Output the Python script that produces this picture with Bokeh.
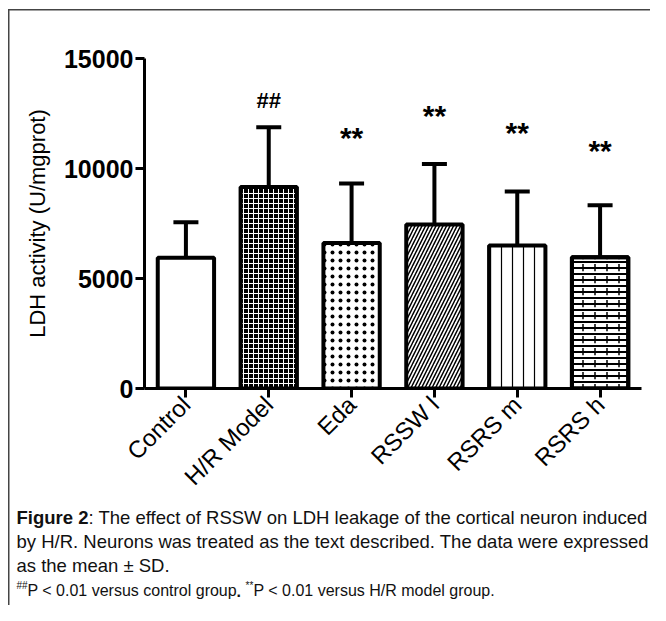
import math
from bokeh.plotting import figure
from bokeh.layouts import column
from bokeh.models import (Range1d, FactorRange, Whisker, TeeHead, ColumnDataSource, FixedTicker)
from bokeh.core.properties import value
from bokeh.embed import file_html
from bokeh.resources import INLINE

# ---- data ----
groups = ["Control", "H/R Model", "Eda", "RSSW l", "RSRS m", "RSRS h"]
means = [5940, 9160, 6610, 7460, 6500, 5970]
sds = [1620, 2720, 2710, 2740, 2460, 2360]
hash_groups = ["H/R Model"]
hash_y = [13100]
star_groups = ["Eda", "RSSW l", "RSRS m", "RSRS h"]
star_y = [11500, 12500, 11750, 10900]
y_ticks = [0, 5000, 10000, 15000]

FONT = "Liberation Sans"
W = 650
H1 = 505
H2 = 100

frame_bg = ("linear-gradient(#444,#444) no-repeat 8px 9px / 1.5px 100%, "
            "linear-gradient(#444,#444) no-repeat 8px 9px / 100% 1.5px, white")

p = figure(width=W, height=H1,
           x_range=FactorRange(*groups, range_padding=0),
           y_range=Range1d(0, 15000),
           output_backend="svg", toolbar_location=None,
           min_border_left=144, min_border_right=9,
           min_border_top=58, min_border_bottom=H1 - 388)
p.frame_align = False
p.outline_line_color = None
p.border_fill_color = None
p.background_fill_color = None
p.xgrid.visible = False
p.ygrid.visible = False
p.styles = {"background": frame_bg}

# axes
p.yaxis.ticker = FixedTicker(ticks=y_ticks)
p.yaxis.minor_tick_line_color = None
p.yaxis.major_tick_in = 0
p.yaxis.major_tick_out = 9
p.yaxis.major_tick_line_width = 3
p.yaxis.axis_line_width = 3
p.yaxis.major_label_text_font = FONT
p.yaxis.major_label_text_font_style = "bold"
p.yaxis.major_label_text_font_size = "25px"
p.yaxis.major_label_text_color = "black"
p.yaxis.major_label_standoff = 2
p.yaxis.axis_label = "LDH activity (U/mgprot)"
p.yaxis.axis_label_text_font = FONT
p.yaxis.axis_label_text_font_style = "normal"
p.yaxis.axis_label_text_font_size = "22px"
p.yaxis.axis_label_text_color = "black"
p.yaxis.axis_label_standoff = 11

p.xaxis.major_tick_in = 0
p.xaxis.major_tick_out = 9
p.xaxis.major_tick_line_width = 3
p.xaxis.axis_line_width = 3
p.xaxis.major_label_orientation = math.pi / 4
p.xaxis.major_label_text_font = FONT
p.xaxis.major_label_text_font_size = "24px"
p.xaxis.major_label_text_color = "black"
p.xaxis.major_label_standoff = 3

# error bars (upper only)
upper = [m + s for m, s in zip(means, sds)]
src = ColumnDataSource(dict(x=groups, m=means, up=upper))
w = Whisker(base="x", lower="m", upper="up", source=src, line_width=4, line_color="black",
            upper_head=TeeHead(size=25, line_width=4, line_color="black"), lower_head=None,
            level="underlay")
p.add_layout(w)

# bars with patterns
styles = [
    dict(fill_color="white"),
    dict(fill_color="black", hatch_pattern="cross", hatch_color="white", hatch_scale=5, hatch_weight=1),
    dict(fill_color="white", hatch_pattern="dot", hatch_color="black", hatch_scale=8, hatch_weight=1.5),
    dict(fill_color="white", hatch_pattern="right_diagonal_line", hatch_color="black", hatch_scale=7, hatch_weight=1.5),
    dict(fill_color="white", hatch_pattern="vertical_line", hatch_color="black", hatch_scale=11, hatch_weight=1.2),
    dict(fill_color="white", hatch_pattern="horizontal_line", hatch_color="black", hatch_scale=6, hatch_weight=2),
]
for g, m, st in zip(groups, means, styles):
    p.vbar(x=[g], top=[m], bottom=0, width=0.68, line_color="black", line_width=4, **st)
# brick joints for the last bar
p.vbar(x=[groups[5]], top=[means[5]], bottom=0, width=0.68, fill_color=None, line_color=None,
       hatch_pattern="vertical_dash", hatch_color="black", hatch_scale=12, hatch_weight=1.5)
p.vbar(x=[groups[5]], top=[means[5]], bottom=0, width=0.68, fill_color=None, line_color="black", line_width=4)

# significance marks
p.text(x=hash_groups, y=hash_y, text=["##"] * len(hash_groups), text_align="center",
       text_baseline="middle", text_font=value(FONT),
       text_font_style="bold", text_font_size="22px", text_color="black")
p.text(x=star_groups, y=star_y, text=["**"] * len(star_groups), text_align="center",
       text_baseline="alphabetic", y_offset=2, text_font=value(FONT),
       text_font_style="bold", text_font_size="30px", text_color="black")

# ---- caption panel (its data space is its own pixel space) ----
c = figure(width=W, height=H2, x_range=Range1d(0, W), y_range=Range1d(H2, 0),
           output_backend="svg", toolbar_location=None,
           min_border_left=0, min_border_right=0, min_border_top=0, min_border_bottom=0)
c.frame_align = False
c.xaxis.visible = False
c.yaxis.visible = False
c.grid.visible = False
c.outline_line_color = None
c.border_fill_color = None
c.background_fill_color = None
c.styles = {"background": "linear-gradient(#444,#444) no-repeat 8px 0px / 1.5px 100%, white"}

def cap(x, y, txt, style="normal", size="18.5px"):
    c.text(x=[x], y=[y - H1], text=[txt], text_font=value(FONT), text_font_style=style,
           text_font_size=size, text_baseline="middle", text_align="left", text_color="#111")

cap(16, 517, "Figure 2", "bold")
cap(16 + 72, 517, ": The effect of RSSW on LDH leakage of the cortical neuron induced")
cap(16, 541, "by H/R. Neurons was treated as the text described. The data were expressed")
cap(16, 565, "as the mean \u00b1 SD.")
cap(16, 585, "##", size="10px")
cap(16 + 11, 590, "P < 0.01 versus control group", size="16px")
cap(16 + 11 + 209, 590, ".", "bold", size="16px")
cap(16 + 11 + 218, 585, "**", size="10px")
cap(16 + 11 + 226, 590, "P < 0.01 versus H/R model group.", size="16px")

layout = column(p, c, spacing=0)
open("out.html", "w").write(file_html(layout, INLINE))
